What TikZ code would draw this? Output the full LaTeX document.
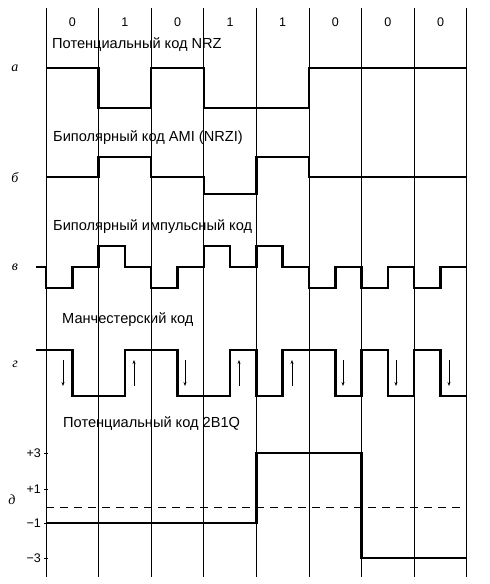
\documentclass[tikz,border=0pt]{standalone}
\usepackage{fontspec}
\setmainfont{Liberation Sans}
\newfontfamily\lblfont{Liberation Serif}
\usetikzlibrary{arrows.meta}
\begin{document}
\begin{tikzpicture}[x=1pt,y=-1pt,
  grid/.style={line width=0.8pt},
  wave/.style={line width=2.5pt,line join=miter},
  title/.style={anchor=west,inner sep=0pt,font=\fontsize{14.6}{16}\selectfont},
  bit/.style={inner sep=0pt,font=\fontsize{12.5}{14}\selectfont},
  row/.style={inner sep=0pt,font=\lblfont\itshape\fontsize{14}{16}\selectfont},
  lev/.style={anchor=east,inner sep=0pt,font=\fontsize{12.5}{14}\selectfont},
  arr/.style={line width=0.8pt,-{Stealth[length=4pt,width=3pt]}}]
\useasboundingbox (0,0) rectangle (490,584);
% grid lines
\foreach \i in {0,...,8}{
  \coordinate (gt\i) at ({46+52.6*\i},8);
  \coordinate (gb\i) at ({46+52.6*\i},577);
  \draw[grid] (gt\i) -- (gb\i);
}
% bit values
\foreach \b [count=\i from 0] in {0,1,0,1,1,0,0,0}{
  \node[bit] (b\i) at ({72.3+52.6*\i},22) {\b};
}
% titles
\node[title] (t1) at (52,45) {Потенциальный код NRZ};
\node[title] (t2) at (53,138) {Биполярный код AMI (NRZI)};
\node[title] (t3) at (53,227) {Биполярный импульсный код};
\node[title] (t4) at (62,320) {Манчестерский код};
\node[title] (t5) at (63,424) {Потенциальный код 2B1Q};
% row labels
\node[row] (ra) at (15,68) {а};
\node[row] (rb) at (15,178) {б};
\node[row] (rc) at (15,267) {в};
\node[row] (rd) at (15,364) {г};
\node[row] (re) at (12,500) {д};
% a) NRZ
\draw[wave] (46,68) -- (98.6,68) -- (98.6,108) -- (151.2,108) -- (151.2,68) -- (203.8,68) -- (203.8,108) -- (309,108) -- (309,68) -- (466.8,68);
% b) AMI
\draw[wave] (46,177) -- (98.6,177) -- (98.6,157) -- (151.2,157) -- (151.2,177) -- (203.8,177) -- (203.8,194) -- (256.4,194) -- (256.4,157) -- (309,157) -- (309,177) -- (466.8,177);
% c) bipolar pulse
\draw[wave] (36,267) -- (46,267) -- (46,288) -- (72.3,288) -- (72.3,267) -- (98.6,267) -- (98.6,246) -- (124.9,246) -- (124.9,267) -- (151.2,267) -- (151.2,288) -- (177.5,288) -- (177.5,267) -- (203.8,267) -- (203.8,246) -- (230.1,246) -- (230.1,267) -- (256.4,267) -- (256.4,246) -- (282.7,246) -- (282.7,267) -- (309,267) -- (309,288) -- (335.3,288) -- (335.3,267) -- (361.6,267) -- (361.6,288) -- (387.9,288) -- (387.9,267) -- (414.2,267) -- (414.2,288) -- (440.5,288) -- (440.5,267) -- (466.8,267);
% d) Manchester
\draw[wave] (36,350) -- (72.3,350) -- (72.3,396) -- (124.9,396) -- (124.9,350) -- (177.5,350) -- (177.5,396) -- (230.1,396) -- (230.1,350) -- (256.4,350) -- (256.4,396) -- (282.7,396) -- (282.7,350) -- (335.3,350) -- (335.3,396) -- (361.6,396) -- (361.6,350) -- (387.9,350) -- (387.9,396) -- (414.2,396) -- (414.2,350) -- (440.5,350) -- (440.5,396) -- (466.8,396);
\foreach \x in {63,185,343,396,449}{
  \coordinate (dt\x) at (\x,360); \coordinate (db\x) at (\x,386);
  \draw[arr] (dt\x) -- (db\x);
}
\foreach \x in {134,239,292}{
  \coordinate (ut\x) at (\x,360); \coordinate (ub\x) at (\x,386);
  \draw[arr] (ub\x) -- (ut\x);
}
% e) 2B1Q
\draw[line width=0.9pt,dash pattern=on 8pt off 6pt] (46,507) -- (466.8,507);
\draw[wave] (46,523) -- (256.4,523) -- (256.4,453) -- (361.6,453) -- (361.6,558) -- (466.8,558);
\foreach \v/\y/\n in {+3/453/p3,+1/489/p1,−1/523/m1,−3/558/m3}{
  \node[lev] (\n) at (41,\y) {\v};
  \draw[line width=1pt] (44,\y) -- (48,\y);
}
\end{tikzpicture}
\end{document}
